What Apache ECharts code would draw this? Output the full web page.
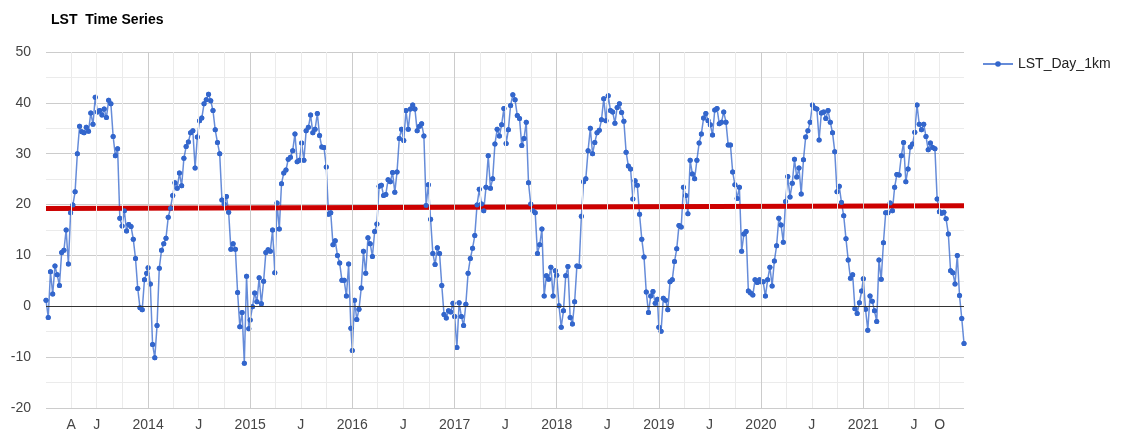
<!DOCTYPE html>
<html lang="en">
<head>
    <meta charset="UTF-8">
    <title>LST Time Series</title>
    <script src="https://cdn.jsdelivr.net/npm/echarts@6/dist/echarts.min.js"></script>
    <style>
        html, body { margin: 0; padding: 0; background: #fff; }
        #chart { width: 1130px; height: 437px; }
    </style>
</head>
<body>
<div id="chart"></div>
<script type="text/javascript">
    // 8-day composites, one array per year (day of year 1, 9, 17, ...)
    var lst2013 = [1.2, -2.2, 6.8, 2.4, 7.9, 6.2, 4.1, 10.6, 11.0, 15.0, 8.3, 18.4, 19.9, 22.5, 30.0, 35.4, 34.3, 34.1, 35.2, 34.4, 38.0, 35.8, 41.1, 38.2, 38.5, 37.6, 38.8, 37.1, 40.5, 39.8, 33.4, 29.6, 31.0, 17.3, 15.8, 18.8, 14.8, 16.1, 15.7, 13.2, 9.4, 3.5, -0.3, -0.7, 5.2, 6.5];
    var lst2014 = [7.6, 4.4, -7.5, -10.1, -3.8, 7.5, 11.0, 12.3, 13.4, 17.5, 19.3, 21.8, 24.3, 23.2, 26.2, 23.7, 29.1, 31.4, 32.3, 34.1, 34.5, 27.2, 33.3, 36.5, 37.0, 39.8, 40.6, 41.7, 40.4, 38.5, 34.7, 32.2, 30.0, 20.9, 20.1, 21.6, 18.5, 11.2, 12.3, 11.2, 2.7, -4.0, -1.2, -11.2, 5.9, -4.4];
    var lst2015 = [-2.7, -0.1, 2.6, 0.9, 5.6, 0.5, 4.9, 10.6, 11.1, 10.8, 15.0, 6.6, 20.3, 15.2, 24.1, 26.2, 26.8, 28.9, 29.3, 30.6, 33.9, 28.4, 28.7, 32.1, 28.7, 34.5, 35.2, 37.6, 34.1, 34.8, 37.9, 33.6, 31.3, 31.2, 27.4, 18.1, 18.4, 12.1, 12.9, 10.0, 8.5, 5.1, 5.1, 2.0, 8.3, -4.3];
    var lst2016 = [-8.7, 1.2, -2.6, -0.6, 3.6, 10.8, 6.5, 13.5, 12.3, 9.8, 14.7, 16.2, 23.6, 23.8, 21.8, 22.0, 24.9, 24.5, 26.3, 22.4, 26.4, 33.0, 34.8, 32.6, 38.5, 34.8, 38.8, 39.6, 38.8, 34.5, 35.4, 35.9, 33.5, 19.8, 23.9, 17.1, 10.4, 8.2, 11.5, 10.4, 4.1, -1.6, -2.3, -0.9, -1.1, 0.6];
    var lst2017 = [-2.0, -8.1, 0.7, -2.0, -3.8, 0.4, 6.5, 9.4, 11.4, 13.9, 19.9, 23.0, 20.1, 18.8, 23.4, 29.6, 23.2, 25.1, 31.9, 34.8, 33.5, 35.7, 38.9, 32.0, 34.7, 39.5, 41.6, 40.6, 37.5, 36.9, 31.6, 33.0, 36.2, 24.3, 20.1, 18.8, 18.4, 10.4, 12.1, 15.2, 2.0, 6.0, 5.3, 7.7, 2.0, 7.0];
    var lst2018 = [6.1, 0.1, -4.1, -0.9, 6.0, 7.8, -2.2, -3.5, 0.9, 7.9, 7.8, 17.7, 24.5, 25.1, 30.6, 35.0, 30.0, 32.2, 34.1, 34.6, 36.7, 40.8, 36.5, 41.4, 38.5, 38.2, 36.0, 39.1, 39.8, 38.1, 36.4, 30.3, 27.6, 27.0, 21.1, 24.7, 23.8, 18.1, 13.2, 9.7, 2.8, -1.2, 2.0, 2.9, 0.6, 1.4];
    var lst2019 = [-4.1, -4.9, 1.6, 1.2, -0.7, 4.8, 5.2, 8.8, 11.3, 15.9, 15.6, 23.4, 21.8, 18.2, 28.7, 26.0, 25.1, 28.7, 32.1, 33.9, 37.0, 37.9, 36.5, 35.7, 33.7, 38.6, 38.9, 35.9, 36.2, 38.2, 36.2, 31.7, 31.7, 26.4, 23.9, 21.2, 23.4, 10.8, 14.2, 14.7, 3.0, 2.6, 2.2, 5.2, 4.7, 5.2];
    var lst2020 = [4.8, 4.8, 2.0, 5.2, 7.7, 4.0, 8.9, 11.9, 17.3, 16.0, 12.6, 20.6, 25.5, 21.5, 24.2, 28.9, 25.4, 27.2, 22.1, 28.8, 33.3, 34.5, 36.2, 39.6, 39.0, 38.8, 32.7, 38.0, 38.2, 36.9, 38.5, 36.2, 34.1, 30.4, 22.5, 23.6, 20.4, 17.8, 13.3, 9.1, 5.5, 6.2, -0.5, -1.4, 0.7, 3.0];
    var lst2021 = [5.4, -0.6, -4.7, 2.0, 1.0, -0.9, -3.0, 9.1, 5.3, 12.5, 18.4, 18.4, 20.3, 18.8, 23.4, 25.9, 25.8, 29.6, 32.2, 24.5, 27.0, 31.3, 31.9, 34.2, 39.6, 35.8, 34.7, 35.8, 33.4, 30.8, 32.1, 31.2, 31.0, 21.1, 18.6, 18.3, 18.5, 17.2, 14.2, 7.0, 6.6, 4.4, 10.0, 2.1, -2.4, -7.3];

    var years = [2013, 2014, 2015, 2016, 2017, 2018, 2019, 2020, 2021];
    var yearData = [lst2013, lst2014, lst2015, lst2016, lst2017, lst2018, lst2019, lst2020, lst2021];

    // linear trendline end values
    var trendValues = [19.25, 19.75];

    // x axis labels
    var xTickDates = ['2013-04-01', '2013-07-01', '2014-01-01', '2014-07-01', '2015-01-01', '2015-07-01',
        '2016-01-01', '2016-07-01', '2017-01-01', '2017-07-01', '2018-01-01', '2018-07-01',
        '2019-01-01', '2019-07-01', '2020-01-01', '2020-07-01', '2021-01-01', '2021-07-01', '2021-10-01'];
    var xTickLabels = ['A', 'J', '2014', 'J', '2015', 'J', '2016', 'J', '2017', 'J', '2018', 'J',
        '2019', 'J', '2020', 'J', '2021', 'J', 'O'];

    var DAY = 86400000;
    function ts(s) { return new Date(s + 'T00:00:00Z').getTime(); }

    var points = [];
    for (var i = 0; i < years.length; i++) {
        var jan1 = Date.UTC(years[i], 0, 1);
        for (var k = 0; k < yearData[i].length; k++) {
            points.push([jan1 + k * 8 * DAY, yearData[i][k]]);
        }
    }
    var xMin = points[0][0];
    var xMax = points[points.length - 1][0];

    var tickTs = xTickDates.map(ts);
    var labelMap = {};
    for (var j = 0; j < tickTs.length; j++) labelMap[tickTs[j]] = xTickLabels[j];

    // vertical gridlines: years darker, quarters lighter
    var vLines = [];
    for (var y = 2013; y <= 2021; y++) {
        for (var m = 0; m < 12; m += 3) {
            var t = Date.UTC(y, m, 1);
            if (t <= xMin || t >= xMax) continue;
            vLines.push({xAxis: t, lineStyle: {color: m === 0 ? '#cccccc' : '#ebebeb', width: 1, type: 'solid'}});
        }
    }

    var font = 'Arial, "Liberation Sans", sans-serif';
    var chart = echarts.init(document.getElementById('chart'));
    chart.setOption({
        animation: false,
        textStyle: {fontFamily: font},
        title: {
            text: 'LST  Time Series',
            left: 46,
            top: 8,
            textStyle: {fontSize: 14, fontWeight: 'bold', color: '#000', fontFamily: font}
        },
        legend: {
            data: ['LST_Day_1km'],
            left: 977,
            top: 52,
            itemWidth: 30,
            itemHeight: 7,
            itemGap: 8,
            textStyle: {fontSize: 14, color: '#222', fontFamily: font}
        },
        grid: {left: 46, right: 166, top: 52, bottom: 29, containLabel: false},
        xAxis: {
            type: 'value',
            min: xMin,
            max: xMax,
            axisLine: {show: false},
            axisTick: {show: false},
            splitLine: {show: false},
            axisLabel: {
                customValues: tickTs,
                margin: 10,
                fontSize: 14,
                color: '#444',
                hideOverlap: false,
                formatter: function (v) { return labelMap[v] || ''; }
            }
        },
        yAxis: {
            type: 'value',
            min: -20,
            max: 50,
            interval: 10,
            axisLine: {show: false},
            axisTick: {show: false},
            axisLabel: {fontSize: 14, color: '#444', margin: 15},
            splitLine: {lineStyle: {color: '#cccccc'}},
            minorTick: {show: false, splitNumber: 2},
            minorSplitLine: {show: true, lineStyle: {color: '#ebebeb'}}
        },
        series: [{
            name: 'grid',
            type: 'line',
            data: [],
            z: 1,
            silent: true,
            markLine: {
                silent: true,
                symbol: ['none', 'none'],
                label: {show: false},
                data: vLines.concat([{yAxis: 0, lineStyle: {color: '#333', width: 1, type: 'solid'}}])
            }
        }, {
            name: 'LST_Day_1km',
            type: 'line',
            data: points,
            z: 2,
            symbol: 'circle',
            symbolSize: 5,
            showSymbol: true,
            itemStyle: {color: '#3366cc'},
            lineStyle: {color: '#3366cc', width: 1.5, opacity: 0.75}
        }, {
            name: 'trend',
            type: 'line',
            data: [[xMin, trendValues[0]], [xMax, trendValues[1]]],
            z: 3,
            symbol: 'none',
            lineStyle: {color: '#cc0000', width: 5}
        }, {
            name: 'dots',
            type: 'scatter',
            data: points,
            z: 4,
            symbolSize: 5,
            itemStyle: {color: '#3366cc', opacity: 1}
        }]
    });
</script>
</body>
</html>
